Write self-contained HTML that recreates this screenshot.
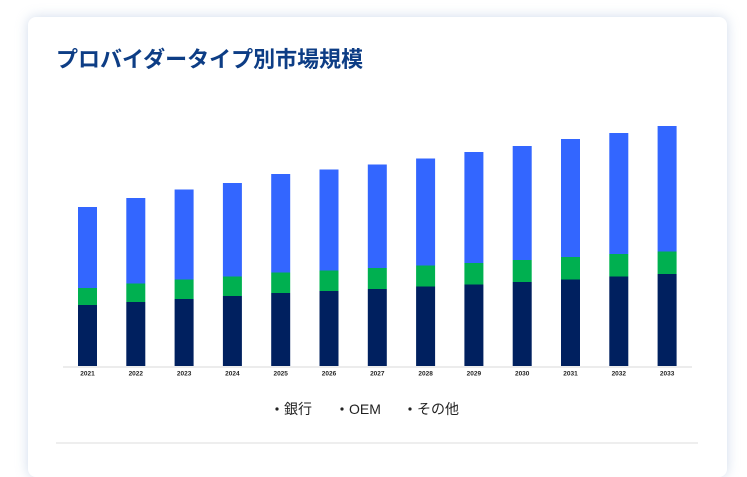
<!DOCTYPE html>
<html><head><meta charset="utf-8"><style>
html,body{margin:0;padding:0;width:747px;height:449px;overflow:hidden;background:#fff;font-family:"Liberation Sans","Noto Sans CJK JP",sans-serif}
.card{position:absolute;left:28px;top:17px;width:699px;height:460px;background:#fff;border-radius:8px;box-shadow:0 0 12px rgba(150,175,210,0.45)}
h1{position:absolute;left:56px;top:42px;margin:0;font-size:22px;font-weight:bold;color:#0d3d85;font-family:"Liberation Sans","Noto Sans CJK JP",sans-serif;letter-spacing:0px}
svg{position:absolute;left:0;top:0}
</style></head><body>
<div class="card"></div>
<h1>プロバイダータイプ別市場規模</h1>
<svg width="747" height="449" xmlns="http://www.w3.org/2000/svg" font-family="Liberation Sans, Noto Sans CJK JP, sans-serif">
<line x1="63" y1="367" x2="692" y2="367" stroke="#d8d8d8" stroke-width="1"/>
<g id="bars">
<rect x="78" y="207" width="19" height="81" fill="#3366ff"/><rect x="78" y="288" width="19" height="17" fill="#00b050"/><rect x="78" y="305" width="19" height="61" fill="#00205f"/>
<rect x="126.3" y="198" width="19" height="85.5" fill="#3366ff"/><rect x="126.3" y="283.5" width="19" height="18.5" fill="#00b050"/><rect x="126.3" y="302" width="19" height="64" fill="#00205f"/>
<rect x="174.6" y="189.5" width="19" height="90" fill="#3366ff"/><rect x="174.6" y="279.5" width="19" height="19.5" fill="#00b050"/><rect x="174.6" y="299" width="19" height="67" fill="#00205f"/>
<rect x="222.9" y="183" width="19" height="93.5" fill="#3366ff"/><rect x="222.9" y="276.5" width="19" height="19.5" fill="#00b050"/><rect x="222.9" y="296" width="19" height="70" fill="#00205f"/>
<rect x="271.2" y="174" width="19" height="98.5" fill="#3366ff"/><rect x="271.2" y="272.5" width="19" height="20.5" fill="#00b050"/><rect x="271.2" y="293" width="19" height="73" fill="#00205f"/>
<rect x="319.5" y="169.5" width="19" height="101" fill="#3366ff"/><rect x="319.5" y="270.5" width="19" height="20.5" fill="#00b050"/><rect x="319.5" y="291" width="19" height="75" fill="#00205f"/>
<rect x="367.8" y="164.5" width="19" height="103.5" fill="#3366ff"/><rect x="367.8" y="268" width="19" height="21" fill="#00b050"/><rect x="367.8" y="289" width="19" height="77" fill="#00205f"/>
<rect x="416.1" y="158.5" width="19" height="107" fill="#3366ff"/><rect x="416.1" y="265.5" width="19" height="21" fill="#00b050"/><rect x="416.1" y="286.5" width="19" height="79.5" fill="#00205f"/>
<rect x="464.4" y="152" width="19" height="111" fill="#3366ff"/><rect x="464.4" y="263" width="19" height="21.5" fill="#00b050"/><rect x="464.4" y="284.5" width="19" height="81.5" fill="#00205f"/>
<rect x="512.7" y="146" width="19" height="114" fill="#3366ff"/><rect x="512.7" y="260" width="19" height="22" fill="#00b050"/><rect x="512.7" y="282" width="19" height="84" fill="#00205f"/>
<rect x="561" y="139" width="19" height="118" fill="#3366ff"/><rect x="561" y="257" width="19" height="22.5" fill="#00b050"/><rect x="561" y="279.5" width="19" height="86.5" fill="#00205f"/>
<rect x="609.3" y="133" width="19" height="121" fill="#3366ff"/><rect x="609.3" y="254" width="19" height="22.5" fill="#00b050"/><rect x="609.3" y="276.5" width="19" height="89.5" fill="#00205f"/>
<rect x="657.6" y="126" width="19" height="125.5" fill="#3366ff"/><rect x="657.6" y="251.5" width="19" height="22.5" fill="#00b050"/><rect x="657.6" y="274" width="19" height="92" fill="#00205f"/>
</g>
<g font-size="6.5" font-weight="bold" fill="#222" text-anchor="middle">
<text x="87.5" y="375.5">2021</text><text x="135.8" y="375.5">2022</text><text x="184.1" y="375.5">2023</text><text x="232.4" y="375.5">2024</text><text x="280.7" y="375.5">2025</text><text x="329" y="375.5">2026</text><text x="377.3" y="375.5">2027</text><text x="425.6" y="375.5">2028</text><text x="473.9" y="375.5">2029</text><text x="522.2" y="375.5">2030</text><text x="570.5" y="375.5">2031</text><text x="618.8" y="375.5">2032</text><text x="667.1" y="375.5">2033</text>
</g>
<g font-size="14" fill="#222">
<circle cx="277" cy="409" r="1.6" fill="#222"/><text x="284" y="414">銀行</text>
<circle cx="342" cy="409" r="1.6" fill="#222"/><text x="349" y="414">OEM</text>
<circle cx="410" cy="409" r="1.6" fill="#222"/><text x="417" y="414">その他</text>
</g>
<line x1="56" y1="443" x2="698" y2="443" stroke="#e3e3e3" stroke-width="1.2"/>
</svg>
</body></html>
